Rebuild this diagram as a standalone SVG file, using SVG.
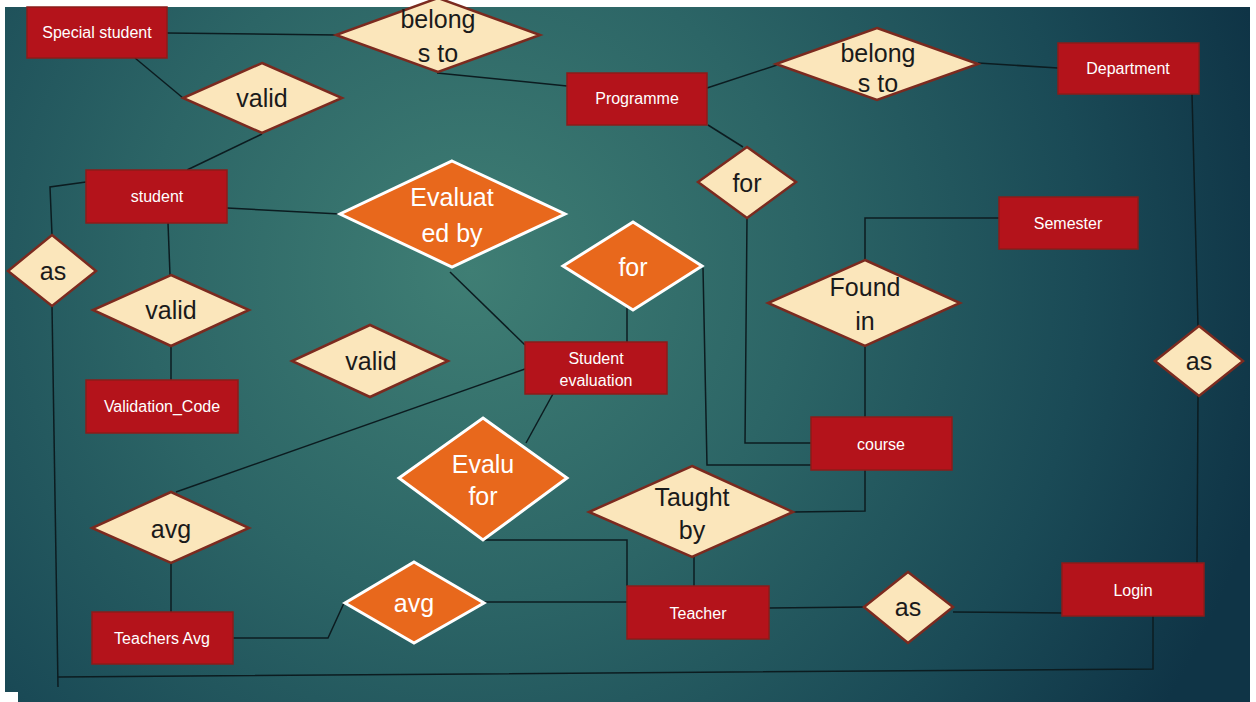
<svg xmlns="http://www.w3.org/2000/svg" width="1256" height="702" viewBox="0 0 1256 702">
<defs>
<radialGradient id="bg" cx="470" cy="270" r="820" gradientUnits="userSpaceOnUse">
<stop offset="0" stop-color="#3f7e74"/>
<stop offset="0.4" stop-color="#2c6566"/>
<stop offset="0.75" stop-color="#1a4a56"/>
<stop offset="1" stop-color="#0f3446"/>
</radialGradient>
<style>
.ent rect{fill:#b4131b;stroke:#8c1c1a;stroke-width:1.5}
.ent text{fill:#ffffff;font-family:"Liberation Sans",Arial,sans-serif;font-size:16px;text-anchor:middle}
.rel polygon{fill:#fbe6bb;stroke:#7b2a1f;stroke-width:2.5;stroke-linejoin:miter}
.rel text{fill:#1a1a1a;font-family:"Liberation Sans",Arial,sans-serif;font-size:25px;text-anchor:middle}
.orel polygon{fill:#e8681c;stroke:#ffffff;stroke-width:3}
.orel text{fill:#ffffff;font-family:"Liberation Sans",Arial,sans-serif;font-size:25px;text-anchor:middle}
#connectors path{fill:none;stroke:#0c1c20;stroke-width:1.5}
</style>
</defs>
<rect x="0" y="0" width="1256" height="702" fill="#ffffff"/>
<rect x="5" y="7" width="1245" height="695" fill="url(#bg)"/>
<rect x="5" y="692" width="13" height="10" fill="#ffffff"/>

<g id="connectors">
<path d="M167,33 L337,35"/>
<path d="M437,73 L567,86"/>
<path d="M707,88 L777,65"/>
<path d="M978,63 L1058,68"/>
<path d="M135,58 L183,98"/>
<path d="M262,134 L187,170"/>
<path d="M86,182 L50,187 L52,235"/>
<path d="M52,306 L58,687"/>
<path d="M58,677 L1153,669 L1153,616"/>
<path d="M168,223 L170,275"/>
<path d="M171,346 L171,380"/>
<path d="M227,208 L340,214"/>
<path d="M450,272 L525,345"/>
<path d="M627,303 L627,342"/>
<path d="M703,268 L707,465 L811,465"/>
<path d="M747,218 L745,443 L811,443"/>
<path d="M708,125 L743,147"/>
<path d="M999,218 L865,218 L865,260"/>
<path d="M865,346 L865,417"/>
<path d="M865,470 L865,511 L793,512"/>
<path d="M694,557 L694,586"/>
<path d="M483,540 L627,540 L627,586"/>
<path d="M554,392 L526,443"/>
<path d="M525,369 L176,492"/>
<path d="M171,562 L171,612"/>
<path d="M233,638 L328,638 L344,603"/>
<path d="M484,602 L627,602"/>
<path d="M769,608 L864,607"/>
<path d="M953,612 L1062,613"/>
<path d="M1192,94 L1198,326"/>
<path d="M1198,396 L1197,563"/>
</g>

<g id="special-student" class="ent"><rect x="27" y="7" width="140" height="51"/><text x="97" y="38">Special student</text></g>
<g id="student" class="ent"><rect x="86" y="170" width="141" height="53"/><text x="157" y="202">student</text></g>
<g id="programme" class="ent"><rect x="567" y="73" width="140" height="52"/><text x="637" y="104">Programme</text></g>
<g id="department" class="ent"><rect x="1058" y="43" width="141" height="51"/><text x="1128" y="74">Department</text></g>
<g id="semester" class="ent"><rect x="999" y="197" width="139" height="52"/><text x="1068" y="229">Semester</text></g>
<g id="validation-code" class="ent"><rect x="86" y="380" width="152" height="53"/><text x="162" y="412">Validation_Code</text></g>
<g id="student-evaluation" class="ent"><rect x="525" y="342" width="142" height="52"/><text x="596" y="364">Student</text><text x="596" y="386">evaluation</text></g>
<g id="course" class="ent"><rect x="811" y="417" width="141" height="53"/><text x="881" y="450">course</text></g>
<g id="teachers-avg" class="ent"><rect x="92" y="612" width="141" height="52"/><text x="162" y="644">Teachers Avg</text></g>
<g id="teacher" class="ent"><rect x="627" y="586" width="142" height="53"/><text x="698" y="619">Teacher</text></g>
<g id="login" class="ent"><rect x="1062" y="563" width="142" height="53"/><text x="1133" y="596">Login</text></g>

<g id="belongs-to-1" class="rel"><polygon points="438,-2 540,35 438,72 336,35"/><text x="438" y="28">belong</text><text x="438" y="62">s to</text></g>
<g id="belongs-to-2" class="rel"><polygon points="877,28 978,64 877,100 776,64"/><text x="878" y="62">belong</text><text x="878" y="92">s to</text></g>
<g id="valid-1" class="rel"><polygon points="262,63 342,98 262,133 183,98"/><text x="262" y="107">valid</text></g>
<g id="for-1" class="rel"><polygon points="747,147 796,182 747,218 698,182"/><text x="747" y="192">for</text></g>
<g id="as-1" class="rel"><polygon points="52,235 96,271 52,306 8,271"/><text x="53" y="280">as</text></g>
<g id="valid-2" class="rel"><polygon points="171,275 249,310 171,346 93,310"/><text x="171" y="319">valid</text></g>
<g id="valid-3" class="rel"><polygon points="370,325 448,361 370,397 292,361"/><text x="371" y="370">valid</text></g>
<g id="found-in" class="rel"><polygon points="865,260 960,303 865,346 768,303"/><text x="865" y="296">Found</text><text x="865" y="330">in</text></g>
<g id="as-2" class="rel"><polygon points="1199,326 1243,361 1199,396 1155,361"/><text x="1199" y="370">as</text></g>
<g id="avg-1" class="rel"><polygon points="171,492 249,528 171,563 92,528"/><text x="171" y="538">avg</text></g>
<g id="taught-by" class="rel"><polygon points="692,466 793,512 692,557 589,512"/><text x="692" y="506">Taught</text><text x="692" y="539">by</text></g>
<g id="as-3" class="rel"><polygon points="908,572 953,607 908,643 864,607"/><text x="908" y="616">as</text></g>

<g id="evaluated-by" class="orel"><polygon points="452,161 565,214 452,267 340,214"/><text x="452" y="206">Evaluat</text><text x="452" y="242">ed by</text></g>
<g id="for-2" class="orel"><polygon points="633,222 702,266 633,310 563,266"/><text x="633" y="276">for</text></g>
<g id="evalu-for" class="orel"><polygon points="483,418 567,478 483,540 399,478"/><text x="483" y="473">Evalu</text><text x="483" y="505">for</text></g>
<g id="avg-2" class="orel"><polygon points="414,562 484,603 414,643 345,603"/><text x="414" y="612">avg</text></g>
</svg>
